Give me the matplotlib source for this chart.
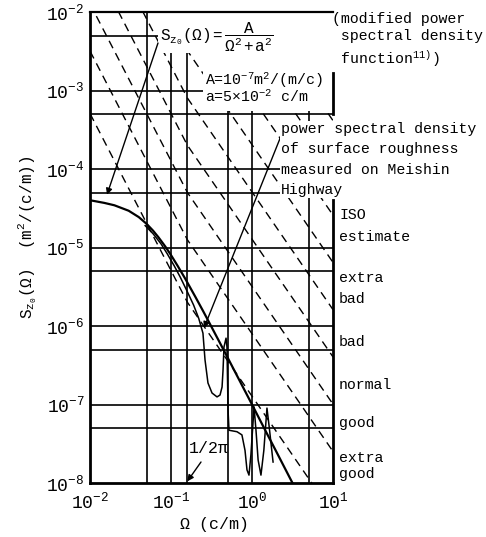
import numpy as np
import matplotlib
matplotlib.use("Agg")
from matplotlib import pyplot as plt
from matplotlib.patches import Rectangle

plt.rcParams['font.family'] = ['Liberation Mono', 'DejaVu Sans Mono']
plt.rcParams['mathtext.fontset'] = 'custom'
plt.rcParams['mathtext.rm'] = 'Liberation Mono'
plt.rcParams['mathtext.it'] = 'Liberation Mono'

# modified power spectral density curve
model_freq = [0.01, 0.015, 0.02, 0.03, 0.04, 0.05, 0.06, 0.07, 0.085, 0.1, 0.12, 0.15,
              0.2, 0.25, 0.3, 0.4, 0.5, 0.7, 1.0, 1.5, 2.0, 3.0, 3.3]
model_psd = [4.0e-5, 3.7e-5, 3.45e-5, 2.94e-5, 2.44e-5, 2.0e-5, 1.64e-5, 1.35e-5, 1.03e-5,
             8.0e-6, 5.9e-6, 4.0e-6, 2.35e-6, 1.54e-6, 1.08e-6, 6.15e-7, 3.96e-7, 2.03e-7,
             1.0e-7, 4.43e-8, 2.5e-8, 1.11e-8, 9.2e-9]

meas_freq = [0.048, 0.06, 0.075, 0.09, 0.11, 0.13, 0.16, 0.19, 0.22, 0.248, 0.263, 0.286,
             0.321, 0.37, 0.403, 0.427, 0.439, 0.451, 0.478, 0.491, 0.498, 0.506, 0.52,
             0.653, 0.751, 0.82, 0.867, 0.918, 0.97, 1.06, 1.12, 1.19, 1.29, 1.40, 1.53,
             1.63, 1.82]
meas_psd = [1.9e-5, 1.5e-5, 1.12e-5, 8.3e-6, 5.8e-6, 4.2e-6, 2.7e-6, 1.85e-6, 1.25e-6,
            8.1e-7, 3.7e-7, 1.88e-7, 1.4e-7, 1.25e-7, 1.32e-7, 1.67e-7, 2.75e-7, 5.4e-7,
            7.0e-7, 5.4e-7, 2.24e-7, 8.5e-8, 4.7e-8, 4.5e-8, 4.1e-8, 2.6e-8, 1.47e-8,
            1.26e-8, 2.3e-8, 9.3e-8, 4.7e-8, 1.96e-8, 1.26e-8, 2.6e-8, 9.0e-8, 5.2e-8,
            1.85e-8]

# ISO estimate class boundaries, S at omega0 in m^2/(rad/m) * 1e-6
omega0 = 1 / (2 * np.pi)
iso_levels = [0.32, 2, 8, 32, 128, 512, 2048, 8192, 32768, 131072, 524288]
iso_w1, iso_w2 = 2.0, 1.5

h_grid = [5e-8, 1e-7, 5e-7, 1e-6, 5e-6, 1e-5, 5e-5, 1e-4, 5e-4, 1e-3, 5e-3]
v_grid = [0.05, 0.1, omega0, 0.5, 1.0, 5.0]
x_ticks = [1e-2, 1e-1, 1e0, 1e1]
y_ticks = [1e-8, 1e-7, 1e-6, 1e-5, 1e-4, 1e-3, 1e-2]

right_labels = ['ISO', 'estimate', 'extra', 'bad', 'bad', 'normal', 'good', 'extra', 'good']
right_label_y = [215, 237, 278, 299, 342, 385, 423, 458, 474]

W, H = 486, 537
fig = plt.figure(figsize=(W / 100, H / 100), dpi=100)
ax = fig.add_axes([90 / W, 1 - 483 / H, 243 / W, 471 / H])
ax.set_xscale('log')
ax.set_yscale('log')
ax.set_xlim(1e-2, 1e1)
ax.set_ylim(1e-8, 1e-2)

for y in h_grid:
    ax.axhline(y, color='k', lw=1.2, zorder=1)
for x in v_grid:
    ax.axvline(x, color='k', lw=1.2, zorder=1)

for lev in iso_levels:
    s0 = lev * 1e-6 * 2 * np.pi
    om = [1e-2, omega0, 1e1]
    s = [s0 * (1e-2 / omega0) ** -iso_w1, s0, s0 * (1e1 / omega0) ** -iso_w2]
    ax.plot(om, s, color='k', lw=1, dashes=(6, 4), zorder=2)

ax.plot(model_freq, model_psd, color='k', lw=1.6, zorder=3)
ax.plot(meas_freq, meas_psd, color='k', lw=1.1, zorder=3)

# blank area behind the formula box
ax.add_patch(Rectangle((0.280, 0.913), 0.72, 0.087, transform=ax.transAxes,
                       facecolor='white', edgecolor='none', zorder=4))
ax.add_patch(Rectangle((0.465, 0.790), 0.535, 0.125, transform=ax.transAxes,
                       facecolor='white', edgecolor='none', zorder=4))

ax.set_xticks(x_ticks)
ax.set_xticklabels([r'$\mathregular{10^{%d}}$' % int(np.log10(v)) for v in x_ticks])
ax.set_yticks(y_ticks)
ax.set_yticklabels([r'$\mathregular{10^{%d}}$' % int(np.log10(v)) for v in y_ticks])
ax.minorticks_off()
ax.tick_params(length=0, labelsize=13)
ax.tick_params(axis='x', pad=6)
ax.tick_params(axis='y', pad=4)

for side in ['left', 'bottom']:
    ax.spines[side].set_linewidth(2)
    ax.spines[side].set_zorder(6)
ax.spines['top'].set_linewidth(1.6)
ax.spines['top'].set_zorder(6)
ax.spines['right'].set_visible(False)
ax.plot([10, 10], [5e-4, 1.67e-3], color='k', lw=2, clip_on=False, zorder=6)
ax.plot([10, 10], [1e-8, 4.0e-5], color='k', lw=2, clip_on=False, zorder=6)

def px(x, y):
    return x / W, 1 - y / H

fs = 10.7
fig.text(*px(160, 37), r'$\mathregular{S_{z_0}(\Omega)=\dfrac{A}{\Omega^2+a^2}}$',
         fontsize=11.5, va='center', ha='left', zorder=7)
fig.text(*px(205, 80), r'A=10$^{-7}$m$^2$/(m/c)', fontsize=fs, va='center', zorder=7)
fig.text(*px(205, 97), r'a=5$\times$10$^{-2}$ c/m', fontsize=fs, va='center', zorder=7)
fig.text(*px(332, 12), '(modified power\n spectral density\n function$^{11)}$)',
         fontsize=fs, va='top', linespacing=1.3, zorder=7)
fig.text(*px(281, 122), 'power spectral density\nof surface roughness\nmeasured on Meishin\nHighway',
         fontsize=fs, va='top', linespacing=1.58, zorder=7,
         bbox=dict(facecolor='white', edgecolor='none', pad=1))

for txt, yc in zip(right_labels, right_label_y):
    fig.text(*px(339, yc), txt, fontsize=fs, va='center')

fig.text(*px(188, 448), r'1/2$\mathregular{\pi}$', fontsize=12, va='center', ha='left')

arrow = dict(arrowstyle='-|>', color='k', lw=1, mutation_scale=9, shrinkA=0, shrinkB=0)
ax.annotate('', xy=(0.0162, 4.7e-5), xytext=(158, H - 43), textcoords='figure pixels',
            arrowprops=arrow, zorder=7)
ax.annotate('', xy=(0.255, 9.4e-7), xytext=(281, H - 136), textcoords='figure pixels',
            arrowprops=arrow, zorder=7)
ax.annotate('', xy=(omega0, 1.05e-8), xytext=(201, H - 462), textcoords='figure pixels',
            arrowprops=arrow, zorder=7)

fig.text(*px(214, 524), r'$\mathregular{\Omega}$ (c/m)', fontsize=12, ha='center', va='center')
fig.text(*px(28, 237), r'$\mathregular{S_{z_0}(\Omega)}$  (m$^2$/(c/m))', fontsize=11.5,
         rotation=90, ha='center', va='center')

fig.savefig('out.png', dpi=100)
